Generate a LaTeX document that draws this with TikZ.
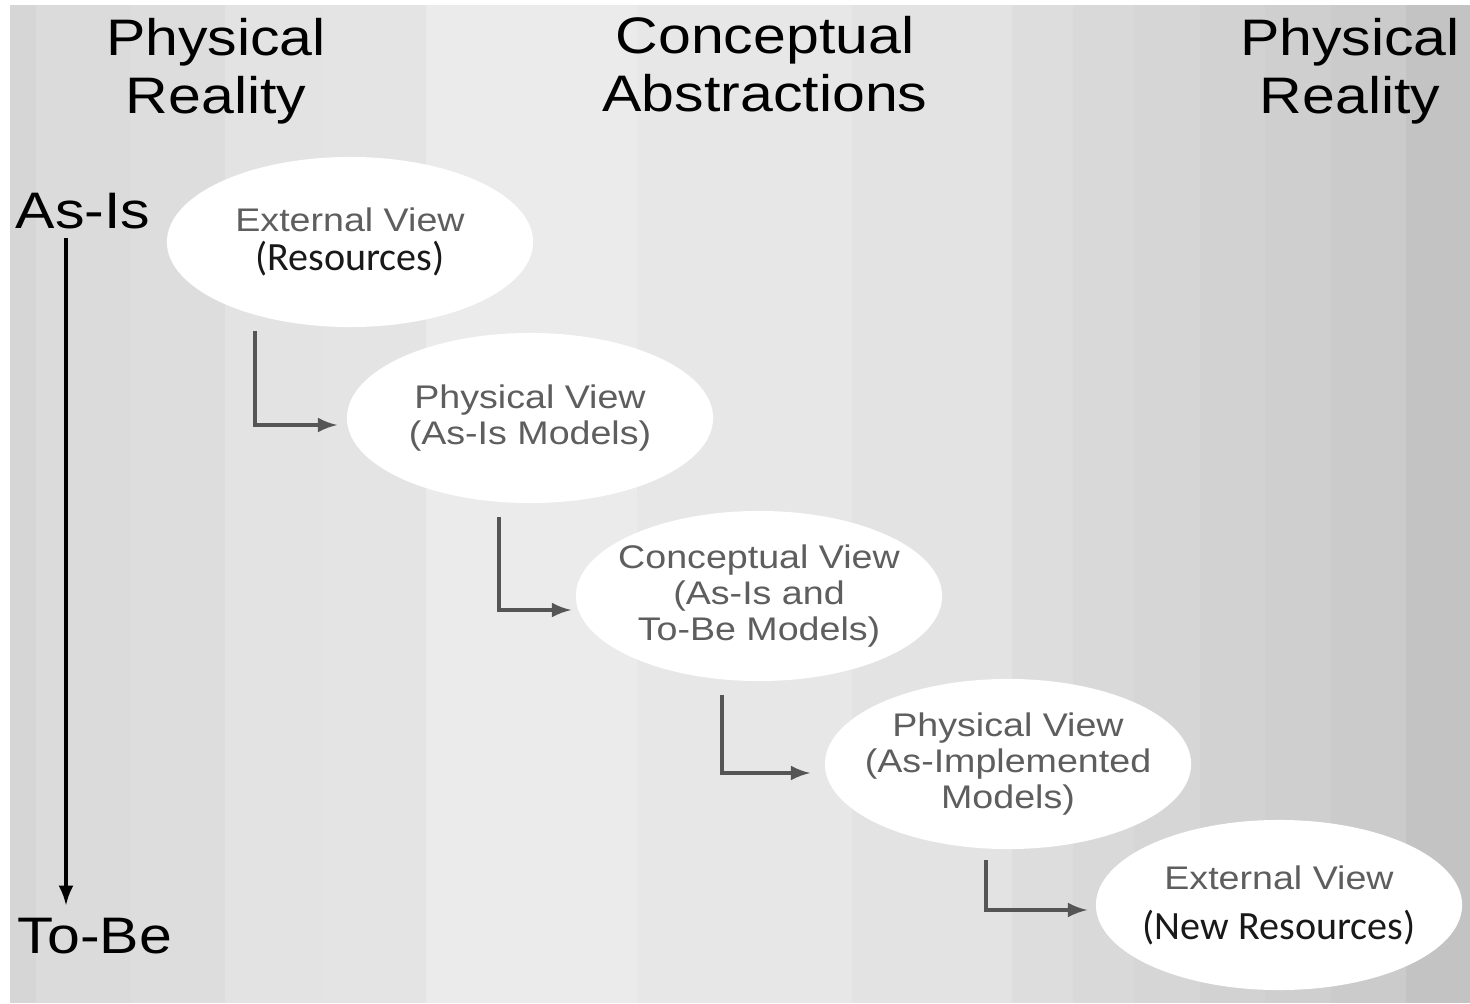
\documentclass[tikz,border=0pt]{standalone}
\usepackage{fontspec}
\setmainfont[FakeStretch=1.15]{Liberation Sans}
\newfontfamily\calibfont{Carlito}
\usetikzlibrary{positioning, calc, shapes.geometric, arrows}

\definecolor{viewgray}{HTML}{5E5E5E}
\definecolor{arrowgray}{HTML}{555555}
\newcommand{\restext}[1]{{\calibfont\fontsize{11.4}{12}\selectfont\color{black!90}#1}}

\tikzset{
  view/.style={ellipse, fill=white, minimum width=3.66cm, minimum height=1.70cm,
    inner xsep=-0.25cm, inner ysep=0pt, align=center, text=viewgray,
    font=\fontsize{9.3}{10.2}\selectfont},
  heading/.style={anchor=north, inner sep=0pt, align=center,
    font=\fontsize{14.6}{16.5}\selectfont},
  side/.style={anchor=base west, inner sep=0pt, font=\fontsize{14.6}{16.5}\selectfont},
  elbow/.style={-latex, line width=0.9pt, draw=arrowgray},
  timeline/.style={-latex, line width=0.9pt}
}

\begin{document}
\begin{tikzpicture}[x=0.01cm, y=-0.01cm]
    \useasboundingbox (0,0) rectangle (1470,1003);
    %background bands
    \fill[white] (0,0) rectangle (1470,1003);
    \foreach \xa/\xb/\dk in {10/36/16, 36/131/14, 131/225/13.5, 225/323/11, 323/426/10.5,
        426/637/8, 637/852/9.5, 852/1012/11, 1012/1073/13.5, 1073/1134/15,
        1134/1200/16, 1200/1265/17.5, 1265/1331/19, 1331/1406/20.5, 1406/1470/23.5}
        \fill[black!\dk] (\xa,5) rectangle (\xb,1003);

    %headings
    \node[heading] (realleft) at (216,18) {Physical\\Reality};
    \node[heading] (concept) at (765,16) {Conceptual\\Abstractions};
    \node[heading] (realright) at (1350,18) {Physical\\Reality};

    %time axis
    \node[side] (asis) at (15,228) {As-Is};
    \node[side] (tobe) at (17,953) {To-Be};
    \draw[timeline] ($(asis.south west)+(51,9)$) -- ($(tobe.north west)+(49,-12)$);

    %views
    \node[view] (ext1) at (350,242) {External View\\[1pt]\restext{(Resources)}};
    \node[view] (phys1) at (530,418) {Physical View\\(As-Is Models)};
    \node[view] (concview) at (759,596) {Conceptual View\\(As-Is and\\To-Be Models)};
    \node[view] (phys2) at (1008,764) {Physical View\\(As-Implemented\\Models)};
    \node[view] (ext2) at (1279,905) {External View\\[4pt]\restext{(New Resources)}};

    %steps
    \draw[elbow] ($(ext1.south)+(-95,3)$) |- ($(phys1.west)+(-9,7)$);
    \draw[elbow] ($(phys1.south)+(-31,13)$) |- ($(concview.west)+(-4,14)$);
    \draw[elbow] ($(concview.south)+(-37,13)$) |- ($(phys2.west)+(-14,9)$);
    \draw[elbow] ($(phys2.south)+(-22,10)$) |- ($(ext2.west)+(-8,5)$);
\end{tikzpicture}
\end{document}
